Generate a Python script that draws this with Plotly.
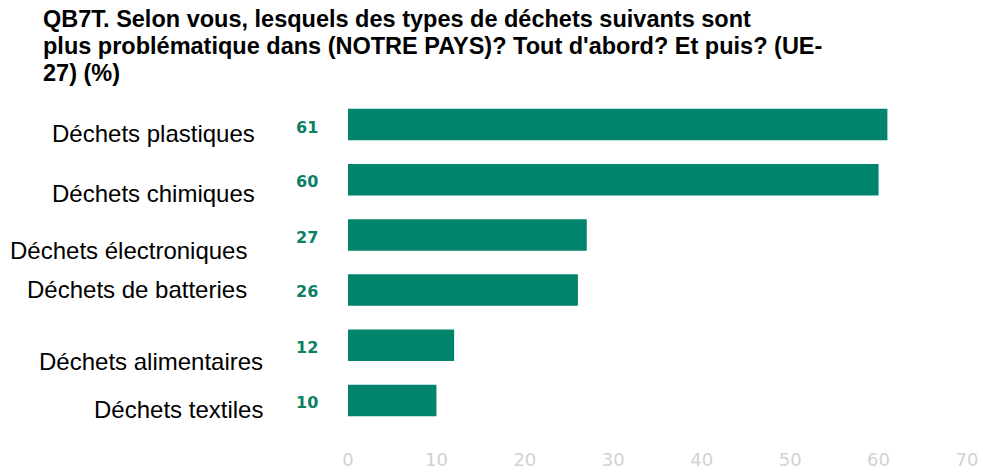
import plotly.graph_objects as go

# Survey results (EU-27, %)
categories = [
    "Déchets plastiques",
    "Déchets chimiques",
    "Déchets électroniques",
    "Déchets de batteries",
    "Déchets alimentaires",
    "Déchets textiles",
]
values = [61, 60, 27, 26, 12, 10]
tick_values = [0, 10, 20, 30, 40, 50, 60, 70]

title_lines = [
    "QB7T. Selon vous, lesquels des types de déchets suivants sont",
    "plus problématique dans (NOTRE PAYS)? Tout d'abord? Et puis? (UE-",
    "27) (%)",
]

W, H = 983, 472
ML, MR, MT, MB = 348, 16, 97, 44
BAR_COLOR = "#00846b"
LABEL_COLOR = "#0b8063"


def px_x(p):
    return (p - ML) / (W - ML - MR)


def px_y(p):
    return 1 - (p - MT) / (H - MT - MB)


fig = go.Figure(
    go.Bar(
        x=values,
        y=categories,
        orientation="h",
        marker=dict(color=BAR_COLOR, line=dict(width=0)),
        width=0.57,
        hoverinfo="x+y",
    )
)

annotations = []

# Title, one line per annotation to control the line spacing
for i, line in enumerate(title_lines):
    annotations.append(dict(
        text=f"<b>{line}</b>", xref="paper", yref="paper",
        x=px_x(41), y=px_y(19 + 27 * i),
        xanchor="left", yanchor="middle", showarrow=False,
        font=dict(family="Liberation Sans, Arial", size=23.5, color="#000000"),
    ))

# Category labels, set loosely to the left of the value labels
label_right = [257, 257, 249, 249, 265, 265]
label_mid = [133, 193, 250, 289, 361, 409]
for cat, xr, ym in zip(categories, label_right, label_mid):
    annotations.append(dict(
        text=cat, xref="paper", yref="paper",
        x=px_x(xr), y=px_y(ym),
        xanchor="right", yanchor="middle", showarrow=False,
        font=dict(family="Liberation Sans, Arial", size=24, color="#000000"),
    ))

# Value labels in a column left of the bars
value_mid = [127, 181, 237, 291, 347, 402]
for cat, v, ym in zip(categories, values, value_mid):
    annotations.append(dict(
        text=f"<b>{v}</b>", xref="paper", yref="paper",
        x=px_x(307), y=px_y(ym),
        xanchor="center", yanchor="middle", showarrow=False,
        font=dict(family="DejaVu Sans, Verdana", size=16, color=LABEL_COLOR),
    ))

fig.update_layout(
    width=W, height=H,
    margin=dict(l=ML, r=MR, t=MT, b=MB, autoexpand=False),
    paper_bgcolor="white", plot_bgcolor="white",
    showlegend=False,
    annotations=annotations,
    xaxis=dict(
        range=[0, 70], tickvals=tick_values,
        showgrid=False, zeroline=False, showline=False,
        ticks="", ticklabelstandoff=19, automargin=False,
        tickfont=dict(family="DejaVu Sans, Verdana", size=18, color="#d2d2d2"),
        fixedrange=True,
    ),
    yaxis=dict(
        categoryorder="array", categoryarray=categories,
        autorange="reversed", showticklabels=False, automargin=False,
        showgrid=False, zeroline=False, showline=False, ticks="",
        fixedrange=True,
    ),
)

fig.write_html("out.html", config={"displayModeBar": False})
